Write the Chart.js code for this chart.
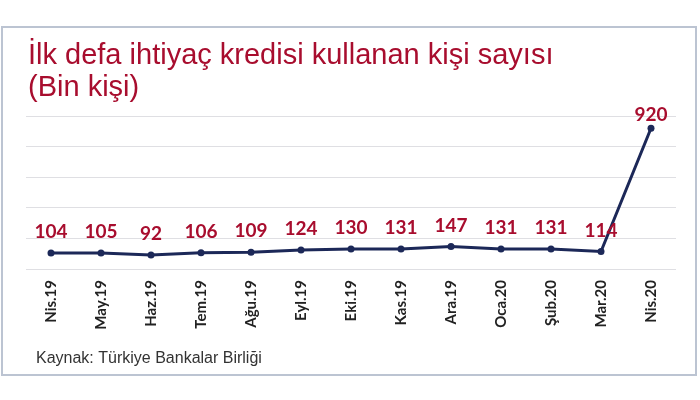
<!DOCTYPE html>
<html>
<head>
<meta charset="utf-8">
<script src="https://cdn.jsdelivr.net/npm/chart.js@4/dist/chart.umd.min.js"></script>
<style>
  html, body { margin: 0; padding: 0; background: #fff; }
  #wrap { width: 700px; height: 400px; position: relative; }
</style>
</head>
<body>
<div id="wrap"><canvas id="chart" width="700" height="400"></canvas></div>
<script>
const months = ['Nis.19', 'May.19', 'Haz.19', 'Tem.19', 'Ağu.19', 'Eyl.19', 'Eki.19',
  'Kas.19', 'Ara.19', 'Oca.20', 'Şub.20', 'Mar.20', 'Nis.20'];
const borrowers = [104, 105, 92, 106, 109, 124, 130, 131, 147, 131, 131, 114, 920];
const titleLines = ['İlk defa ihtiyaç kredisi kullanan kişi sayısı', '(Bin kişi)'];
const sourceNote = 'Kaynak: Türkiye Bankalar Birliği';

const RED = '#A80D2E';
const NAVY = '#1C2858';

// frame, title and source text drawn straight on the canvas
const decorPlugin = {
  id: 'decor',
  beforeDraw(chart) {
    const ctx = chart.ctx;
    ctx.save();
    ctx.fillStyle = '#fff';
    ctx.fillRect(0, 0, chart.width, chart.height);
    ctx.strokeStyle = '#BCC4D2';
    ctx.lineWidth = 2;
    ctx.strokeRect(2, 27, 694, 348);
    ctx.fillStyle = RED;
    ctx.font = '29px "Liberation Sans", Arial, sans-serif';
    ctx.textBaseline = 'alphabetic';
    ctx.fillText(titleLines[0], 28, 64);
    ctx.fillText(titleLines[1], 28, 96);
    ctx.fillStyle = '#333';
    ctx.font = '16px "Liberation Sans", Arial, sans-serif';
    ctx.fillText(sourceNote, 36, 363);
    ctx.restore();
  }
};

// value labels above each point
const valueLabels = {
  id: 'valueLabels',
  afterDatasetsDraw(chart) {
    const ctx = chart.ctx;
    const meta = chart.getDatasetMeta(0);
    ctx.save();
    ctx.fillStyle = RED;
    ctx.font = 'bold 19px Lato, sans-serif';
    ctx.textAlign = 'center';
    ctx.textBaseline = 'middle';
    meta.data.forEach((pt, i) => {
      const y = Math.max(pt.y - 21, chart.chartArea.top - 1);
      ctx.fillText(borrowers[i], pt.x, y);
    });
    ctx.restore();
  }
};

new Chart(document.getElementById('chart'), {
  type: 'line',
  data: {
    labels: months,
    datasets: [{
      data: borrowers,
      borderColor: NAVY,
      backgroundColor: NAVY,
      borderWidth: 3,
      pointRadius: 3.5,
      pointBackgroundColor: NAVY,
      pointBorderWidth: 0,
      tension: 0,
      fill: false
    }]
  },
  options: {
    responsive: false,
    animation: false,
    layout: { padding: { top: 116, left: 26, right: 24, bottom: 0 } },
    plugins: {
      legend: { display: false },
      title: { display: false },
      tooltip: { enabled: false }
    },
    scales: {
      x: {
        offset: true,
        grid: { display: false, drawTicks: false },
        border: { display: false },
        ticks: {
          minRotation: 90,
          maxRotation: 90,
          padding: 11,
          color: '#222',
          font: { family: 'Lato', size: 15, weight: 'bold' }
        },
        afterFit(s) { s.height = 131; }
      },
      y: {
        min: 0,
        max: 1000,
        ticks: { display: false, stepSize: 200 },
        grid: { color: '#DFDFE3', lineWidth: 1, drawTicks: false },
        border: { display: false },
        afterFit(s) { s.width = 0; }
      }
    }
  },
  plugins: [decorPlugin, valueLabels]
});
</script>
</body>
</html>
